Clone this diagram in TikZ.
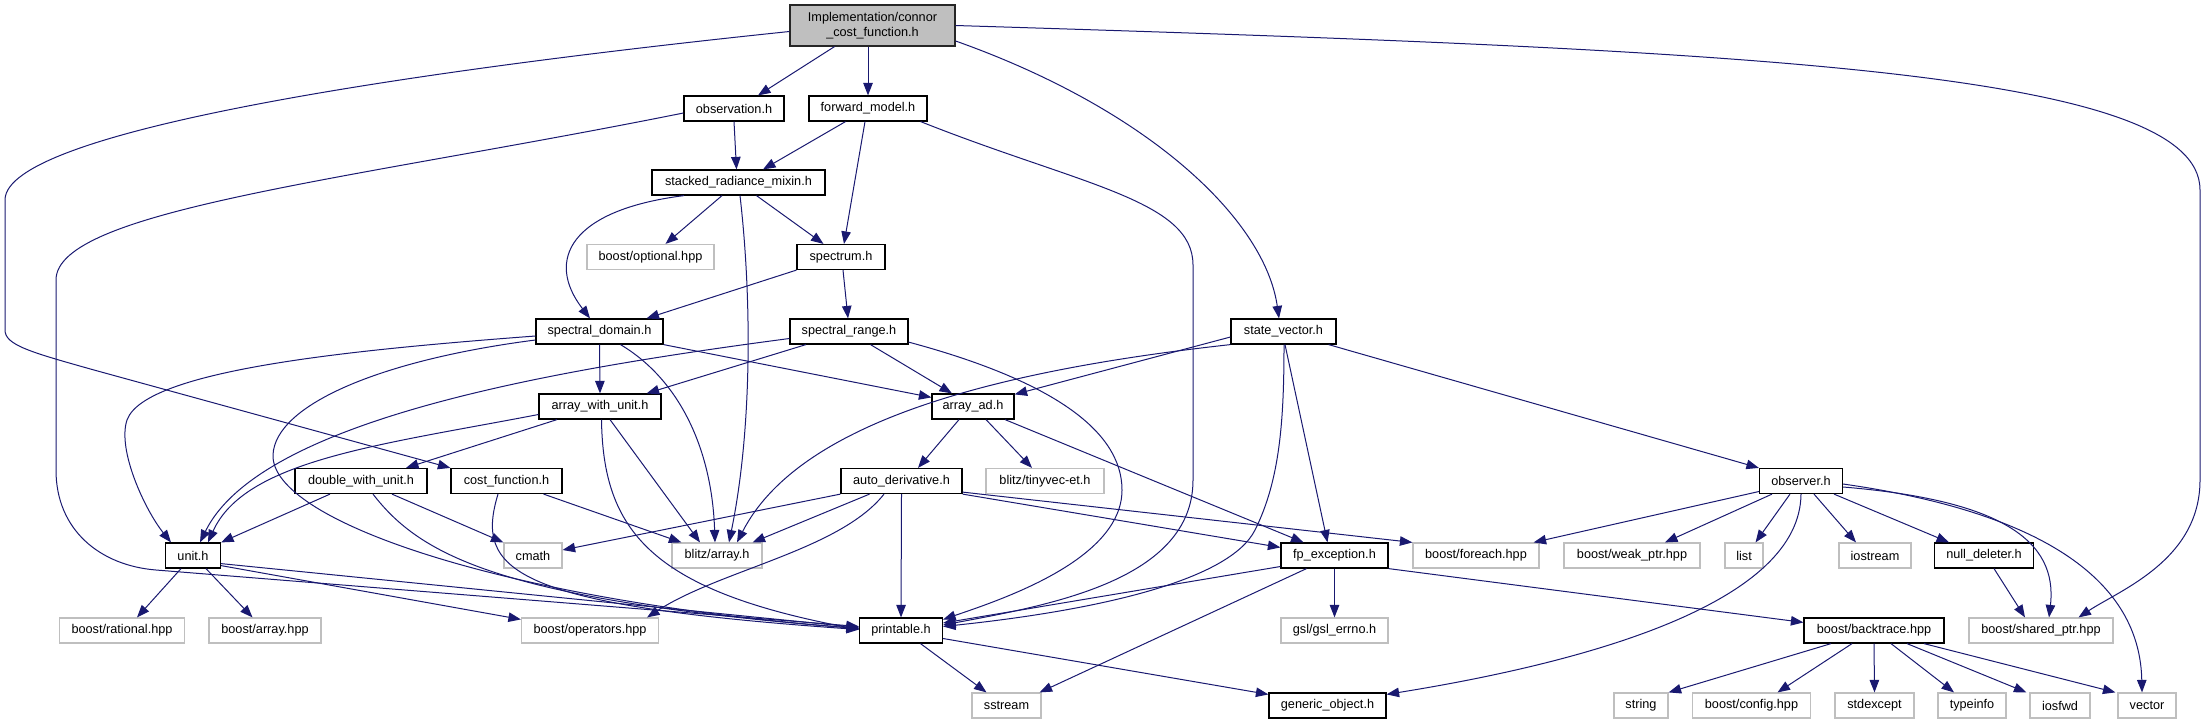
\documentclass[tikz,border=0pt]{standalone}
\usepackage{fontspec}
\setmainfont{Liberation Sans}
\usetikzlibrary{arrows.meta}
\definecolor{depblue}{RGB}{25,25,112}
\definecolor{extgray}{RGB}{191,191,191}
\begin{document}
\begin{tikzpicture}[x=1pt,y=-1pt,font=\fontsize{12.7}{15}\selectfont,
        filebox/.style={draw,rectangle,inner sep=0pt,minimum height=25pt,line width=1.2pt,fill=white},
        incbox/.style={filebox,draw=black},
        extbox/.style={filebox,draw=extgray},
        rootbox/.style={filebox,draw=black!85,fill=extgray,minimum height=41pt,align=center},
        dep/.style={draw=depblue,line width=1pt,-{Triangle[length=12.5pt,width=9.5pt]}}]
        \useasboundingbox (0,0) rectangle (2207,724);
        \node[rootbox,minimum width=165pt] (root) at (872.5,25.5) {Implementation/connor\\\_cost\_function.h};
        \node[incbox,minimum width=100pt] (obsv) at (734,108.5) {observation.h};
        \node[incbox,minimum width=118pt] (fwd) at (868,108.5) {forward\_model.h};
        \node[incbox,minimum width=173pt] (srm) at (738.5,182.5) {stacked\_radiance\_mixin.h};
        \node[extbox,minimum width=127pt] (opt) at (650.5,257) {boost/optional.hpp};
        \node[incbox,minimum width=88pt] (spec) at (841,257) {spectrum.h};
        \node[incbox,minimum width=127pt] (sdom) at (599.5,331.5) {spectral\_domain.h};
        \node[incbox,minimum width=118pt] (srng) at (849,331.5) {spectral\_range.h};
        \node[incbox,minimum width=105pt] (svec) at (1283.5,331.5) {state\_vector.h};
        \node[incbox,minimum width=122pt] (awu) at (600,406.5) {array\_with\_unit.h};
        \node[incbox,minimum width=82pt] (aad) at (973,406.5) {array\_ad.h};
        \node[incbox,minimum width=132pt] (dwu) at (361,481) {double\_with\_unit.h};
        \node[incbox,minimum width=111pt] (cfn) at (506.5,481) {cost\_function.h};
        \node[incbox,minimum width=121pt] (adv) at (901.5,481) {auto\_derivative.h};
        \node[extbox,minimum width=118pt] (tvec) at (1045,481) {blitz/tinyvec-et.h};
        \node[incbox,minimum width=83pt] (obsr) at (1801,481) {observer.h};
        \node[incbox,minimum width=55pt] (unit) at (193,555.5) {unit.h};
        \node[extbox,minimum width=58pt] (cmath) at (533,555.5) {cmath};
        \node[extbox,minimum width=90pt] (blitz) at (717,555.5) {blitz/array.h};
        \node[incbox,minimum width=107pt] (fpe) at (1334.5,555.5) {fp\_exception.h};
        \node[extbox,minimum width=126pt] (fore) at (1476,555.5) {boost/foreach.hpp};
        \node[extbox,minimum width=136pt] (wptr) at (1632,555.5) {boost/weak\_ptr.hpp};
        \node[extbox,minimum width=38pt] (list) at (1744,555.5) {list};
        \node[extbox,minimum width=72pt] (iost) at (1875,555.5) {iostream};
        \node[incbox,minimum width=99pt] (nulld) at (1984,555.5) {null\_deleter.h};
        \node[extbox,minimum width=125pt] (rat) at (122,630.5) {boost/rational.hpp};
        \node[extbox,minimum width=112pt] (barr) at (265,630.5) {boost/array.hpp};
        \node[extbox,minimum width=137pt] (bops) at (590,630.5) {boost/operators.hpp};
        \node[incbox,minimum width=83pt] (prt) at (901,630.5) {printable.h};
        \node[extbox,minimum width=107pt] (gsl) at (1334.5,630.5) {gsl/gsl\_errno.h};
        \node[incbox,minimum width=140pt] (btr) at (1874,630.5) {boost/backtrace.hpp};
        \node[extbox,minimum width=144pt] (sptr) at (2041,630.5) {boost/shared\_ptr.hpp};
        \node[extbox,minimum width=69pt] (sstr) at (1006.5,705.5) {sstream};
        \node[incbox,minimum width=117pt] (gobj) at (1327.5,705.5) {generic\_object.h};
        \node[extbox,minimum width=54pt] (str) at (1641,705.5) {string};
        \node[extbox,minimum width=118pt] (bcfg) at (1751.5,705.5) {boost/config.hpp};
        \node[extbox,minimum width=79pt] (sexc) at (1874.5,705.5) {stdexcept};
        \node[extbox,minimum width=68pt] (tinf) at (1972,705.5) {typeinfo};
        \node[extbox,minimum width=60pt] (iosf) at (2060,705.5) {iosfwd};
        \node[extbox,minimum width=58pt] (vec) at (2147,705.5) {vector};

        \draw[dep] ([xshift=-38pt]root.south) -- ([xshift=24pt]obsv.north);
        \draw[dep] ([xshift=-4.5pt]root.south) -- (fwd.north);
        \draw[dep] ([yshift=-15.5pt]root.east) .. controls (1150,110) and (1265,220) .. ([xshift=-4.5pt]svec.north);
        \draw[dep] (root.east) .. controls (1750,50) and (2200,70) .. (2200,190) -- (2200,480) .. controls (2200,560) and (2120,590) .. ([xshift=37.5pt]sptr.north);
        \draw[dep] ([yshift=-6pt]root.west) .. controls (420,70) and (5,130) .. (5,200) -- (5,330) .. controls (5,345) and (30,352) .. (94,370) -- (cfn.north west);
        \draw[dep] ([yshift=-4.5pt]obsv.west) .. controls (350,180) and (56,210) .. (56,280) -- (56,470) .. controls (56,530) and (100,565.5) .. (156,570) -- ([yshift=4pt]prt.west);
        \draw[dep] (obsv.south) -- ([xshift=-2pt]srm.north);
        \draw[dep] ([xshift=-22.5pt]fwd.south) -- ([xshift=24.5pt]srm.north);
        \draw[dep] ([xshift=-3pt]fwd.south) -- ([xshift=3pt]spec.north);
        \draw[dep] ([xshift=-7pt]fwd.south east) .. controls (1080,185) and (1193,200) .. (1193,265) -- (1193,480) .. controls (1193,580) and (1050,605) .. ([yshift=5.5pt]prt.east);
        \draw[dep] ([xshift=-16.5pt]srm.south) -- ([xshift=15pt]opt.north);
        \draw[dep] ([xshift=18pt]srm.south) -- ([xshift=-17.5pt]spec.north);
        \draw[dep] ([xshift=-54.5pt]srm.south) .. controls (570,210) and (545,260) .. ([xshift=-9.5pt]sdom.north);
        \draw[dep] ([xshift=1.5pt]srm.south) .. controls (752,300) and (752,430) .. ([xshift=12pt]blitz.north);
        \draw[dep] (spec.south west) -- ([xshift=47pt]sdom.north);
        \draw[dep] ([xshift=2pt]spec.south) -- ([xshift=-1pt]srng.north);
        \draw[dep] (sdom.south) -- (awu.north);
        \draw[dep] ([yshift=-4.5pt]sdom.west) .. controls (350,350) and (145,370) .. (127,420) .. controls (117,450) and (145,510) .. ([xshift=-22pt]unit.north);
        \draw[dep] ([yshift=-8.5pt]sdom.west) .. controls (380,360) and (275,405) .. (273,455) .. controls (271,520) and (500,600) .. ([yshift=2pt]prt.west);
        \draw[dep] ([xshift=21pt]sdom.south) .. controls (680,380) and (712,450) .. ([xshift=-2pt]blitz.north);
        \draw[dep] (sdom.south east) -- ([yshift=-4pt]aad.north west);
        \draw[dep] ([xshift=16.5pt]srng.south west) -- ([xshift=-15pt]awu.north east);
        \draw[dep] ([xshift=21.5pt]srng.south) -- ([xshift=-21pt]aad.north);
        \draw[dep] ([yshift=-7pt]srng.west) .. controls (550,370) and (260,420) .. ([xshift=7pt]unit.north);
        \draw[dep] ([yshift=2.5pt]srng.south east) .. controls (1050,380) and (1122,430) .. (1122,490) .. controls (1122,560) and (1000,600) .. ([yshift=11pt]prt.east);
        \draw[dep] ([yshift=-5.5pt]svec.west) -- ([yshift=-1pt]aad.north east);
        \draw[dep] (svec.south west) .. controls (1000,370) and (800,420) .. ([xshift=20pt]blitz.north);
        \draw[dep] ([xshift=1.5pt]svec.south) -- ([xshift=-7pt]fpe.north);
        \draw[dep] ([xshift=0.5pt]svec.south) .. controls (1284,420) and (1280,480) .. (1255,530) .. controls (1230,580) and (1100,610) .. ([yshift=4pt]prt.east);
        \draw[dep] ([xshift=-8pt]svec.south east) -- (obsr.north west);
        \draw[dep] ([xshift=-43pt]awu.south) -- ([xshift=45pt]dwu.north);
        \draw[dep] ([yshift=-8pt]awu.west) .. controls (380,445) and (245,460) .. ([xshift=15pt]unit.north);
        \draw[dep] ([xshift=10pt]awu.south) -- ([xshift=-17pt]blitz.north);
        \draw[dep] ([xshift=1.5pt]awu.south) .. controls (603,530) and (650,590) .. ([yshift=1pt]prt.west);
        \draw[dep] ([xshift=-14pt]aad.south) -- ([xshift=16.5pt]adv.north);
        \draw[dep] ([xshift=13pt]aad.south) -- ([xshift=-13pt]tvec.north);
        \draw[dep] ([xshift=32pt]aad.south) -- ([xshift=-31pt]fpe.north);
        \draw[dep] ([xshift=-31pt]dwu.south) -- (unit.north east);
        \draw[dep] ([xshift=31pt]dwu.south) -- (cmath.north west);
        \draw[dep] ([xshift=12pt]dwu.south) .. controls (420,555) and (500,600) .. ([yshift=2pt]prt.west);
        \draw[dep] ([xshift=-19pt]cfn.south east) -- ([xshift=10pt]blitz.north west);
        \draw[dep] ([xshift=-8.5pt]cfn.south) .. controls (475,570) and (510,605) .. ([yshift=1pt]prt.west);
        \draw[dep] (adv.south west) -- ([yshift=5.5pt]cmath.east);
        \draw[dep] ([xshift=-32pt]adv.south) -- ([xshift=-10pt]blitz.north east);
        \draw[dep] ([xshift=-17.5pt]adv.south) .. controls (840,550) and (720,570) .. ([xshift=-12pt]bops.north east);
        \draw[dep] (adv.south) -- (prt.north);
        \draw[dep] (adv.south east) -- ([yshift=-5pt]fpe.north west);
        \draw[dep] ([yshift=2pt]adv.south east) -- (fore.north west);
        \draw[dep] ([xshift=-12pt]unit.south) -- ([xshift=15pt]rat.north);
        \draw[dep] ([xshift=13pt]unit.south) -- ([xshift=-12.5pt]barr.north);
        \draw[dep] ([yshift=3pt]unit.south east) -- ([yshift=-2pt]bops.north west);
        \draw[dep] ([yshift=5pt]unit.south east) -- ([yshift=3pt]prt.west);
        \draw[dep] ([yshift=-10.5pt]obsr.west) -- ([xshift=-6pt]fore.north east);
        \draw[dep] ([xshift=-29pt]obsr.south) -- ([xshift=33pt]wptr.north);
        \draw[dep] ([xshift=-11pt]obsr.south) -- ([xshift=11.5pt]list.north);
        \draw[dep] ([xshift=13pt]obsr.south) -- ([xshift=-19pt]iost.north);
        \draw[dep] ([xshift=33pt]obsr.south) -- ([xshift=-35pt]nulld.north);
        \draw[dep] ([yshift=-6pt]obsr.east) .. controls (2000,500) and (2058,540) .. ([xshift=8pt]sptr.north);
        \draw[dep] ([yshift=-3pt]obsr.east) .. controls (2060,515) and (2140,590) .. ([xshift=-5pt]vec.north);
        \draw[dep] (obsr.south) .. controls (1800,600) and (1600,660) .. ([yshift=-2pt]gobj.north east);
        \draw[dep] ([xshift=10pt]nulld.south) -- ([xshift=-16pt]sptr.north);
        \draw[dep] ([yshift=-11pt]fpe.west) -- ([yshift=7.5pt]prt.east);
        \draw[dep] (fpe.south) -- (gsl.north);
        \draw[dep] ([xshift=-28pt]fpe.south) -- ([xshift=-2pt]sstr.north east);
        \draw[dep] (fpe.south east) -- ([yshift=-5pt]btr.north west);
        \draw[dep] ([xshift=19.5pt]prt.south) -- ([xshift=-20pt]sstr.north);
        \draw[dep] ([yshift=-8pt]prt.east) -- ([yshift=-2pt]gobj.north west);
        \draw[dep] ([xshift=-43pt]btr.south) -- (str.north east);
        \draw[dep] ([xshift=-22pt]btr.south) -- ([xshift=26pt]bcfg.north);
        \draw[dep] (btr.south) -- (sexc.north);
        \draw[dep] ([xshift=17pt]btr.south) -- ([xshift=-18pt]tinf.north);
        \draw[dep] ([xshift=33pt]btr.south) -- ([xshift=-3pt]iosf.north west);
        \draw[dep] ([xshift=50pt]btr.south) -- ([xshift=-2pt]vec.north west);
      \end{tikzpicture}
\end{document}
